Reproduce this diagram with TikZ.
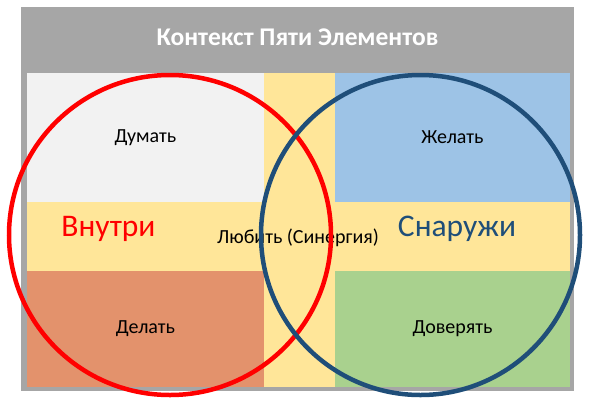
\documentclass[tikz,border=0pt]{standalone}
\usepackage{fontspec}
\setmainfont{Carlito}
\definecolor{framegray}{HTML}{A6A6A6}
\definecolor{thinkgray}{HTML}{F2F2F2}
\definecolor{wishblue}{HTML}{9DC3E6}
\definecolor{loveyellow}{HTML}{FFE699}
\definecolor{doorange}{HTML}{E3926C}
\definecolor{trustgreen}{HTML}{A9D18E}
\definecolor{outsideblue}{HTML}{1F4E79}
\tikzset{
  panel/.style={inner sep=0pt, minimum width=237pt, minimum height=129pt, font=\fontsize{20}{24}\selectfont},
  sidelabel/.style={font=\fontsize{31.5}{38}\selectfont},
  ring/.style={line width=4.5pt}
}
\begin{document}
\begin{tikzpicture}[x=1pt,y=-1pt]
                \useasboundingbox (0,0) rectangle (591,405);
                \fill[framegray] (21,7) rectangle (574,391);
                \fill[loveyellow] (27,73) rectangle (570,387);
                \node[text=white, font=\fontsize{25.5}{30}\selectfont\bfseries] (title) at (297.5,37) {Контекст Пяти Элементов};
                \node[panel, fill=thinkgray] (think) at (145.5,137.5) {Думать};
                \node[panel, fill=wishblue, minimum width=235pt] (wish) at (452.5,137.5) {Желать};
                \node[panel, fill=doorange, minimum height=116pt] (do) at (145.5,329) {Делать};
                \node[panel, fill=trustgreen, minimum width=235pt, minimum height=116pt] (trust) at (452.5,329) {Доверять};
                \node[font=\fontsize{20}{24}\selectfont] (love) at (298,238) {Любить (Синергия)};
                \node[sidelabel, text=red] (inside) at (108.5,229) {Внутри};
                \node[sidelabel, text=outsideblue] (outside) at (457,229) {Снаружи};
                \draw[ring, red] (170,235) ellipse (161 and 160);
                \draw[ring, outsideblue] (420.5,235) ellipse (159.5 and 160);
            \end{tikzpicture}
\end{document}
